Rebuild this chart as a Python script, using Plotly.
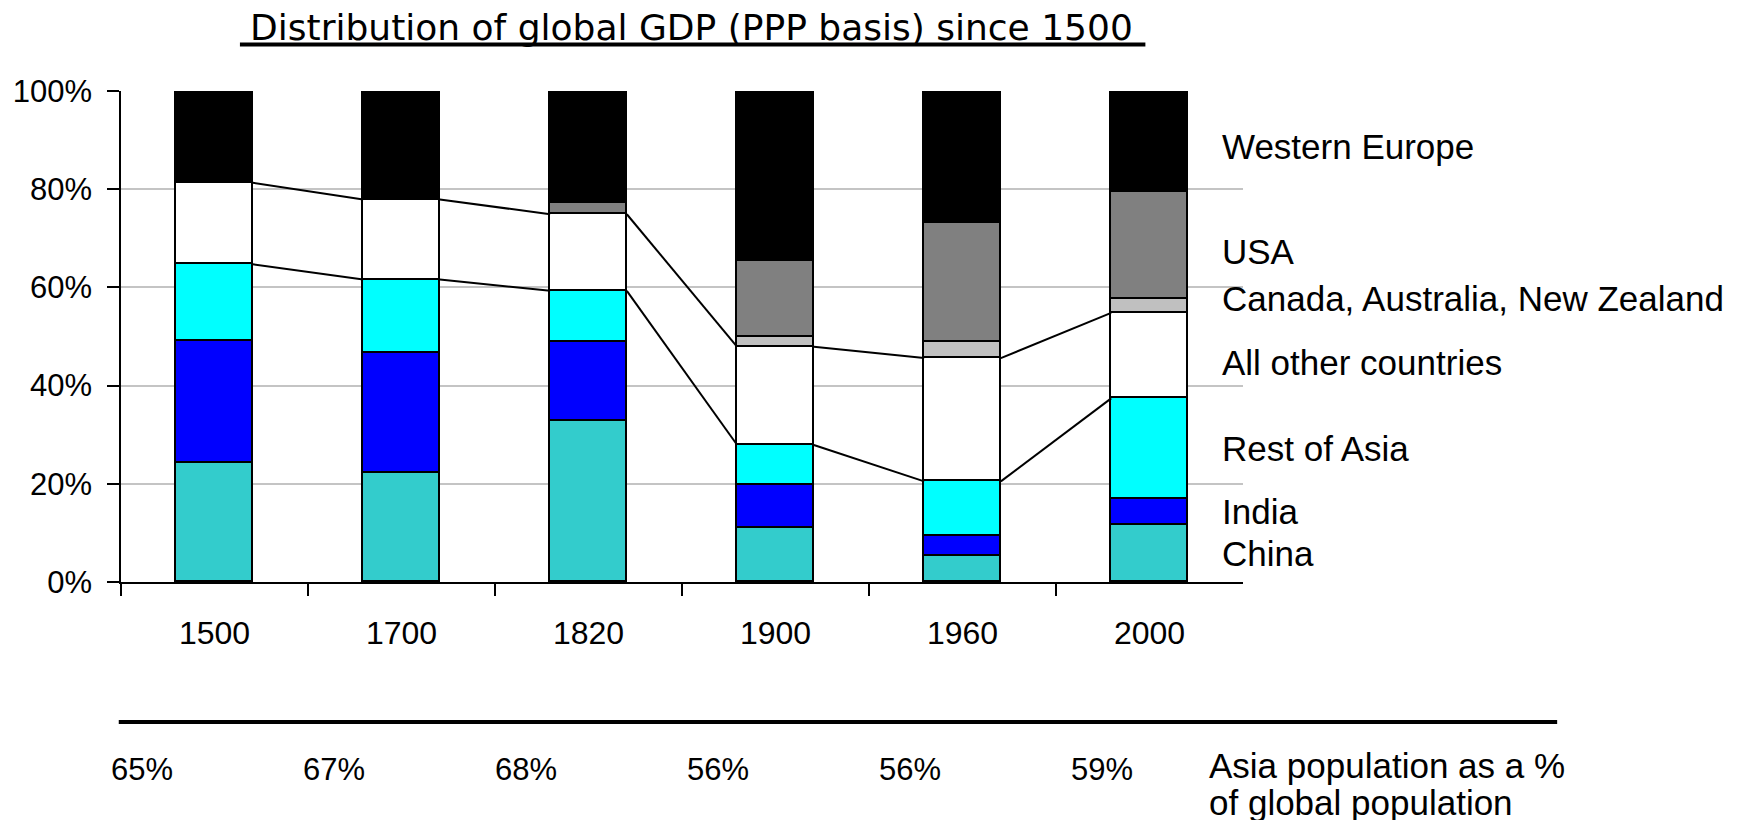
import plotly.graph_objects as go

# ---- data (percent of global GDP, PPP basis) ----
years = ["1500", "1700", "1820", "1900", "1960", "2000"]
china = [24.3, 22.1, 32.7, 10.9, 5.3, 11.6]
india = [24.8, 24.6, 16.2, 8.9, 4.0, 5.4]
rest_of_asia = [15.6, 14.9, 10.4, 8.1, 11.2, 20.4]
all_other = [16.6, 16.3, 15.6, 20.0, 25.1, 17.4]
canada_aus_nz = [0.0, 0.0, 0.0, 2.1, 3.3, 2.9]
usa = [0.0, 0.0, 2.2, 15.3, 24.2, 21.7]
western_europe = [18.7, 22.1, 22.9, 34.7, 26.9, 20.6]
asia_pop_share = ["65%", "67%", "68%", "56%", "56%", "59%"]
y_ticks = [0, 20, 40, 60, 80, 100]
y_tick_text = ["0%", "20%", "40%", "60%", "80%", "100%"]

series_names = ["China", "India", "Rest of Asia", "All other countries",
                "Canada, Australia, New Zealand", "USA", "Western Europe"]
series_values = [china, india, rest_of_asia, all_other, canada_aus_nz, usa, western_europe]
series_colors = ["#33CCCC", "#0000FF", "#00FFFF", "#FFFFFF", "#C0C0C0", "#808080", "#000000"]
label_yshift = [0, 0, 0, -7, 7, -6, -5]   # pixel nudges for right-hand labels

FONT = "Liberation Sans, Arial, sans-serif"
BAR_W = 0.41
xpos = list(range(len(years)))

fig = go.Figure()
for name, vals, col in zip(series_names, series_values, series_colors):
    fig.add_trace(go.Bar(x=xpos, y=vals, name=name, width=BAR_W,
                         marker=dict(color=col, line=dict(color="black", width=1.6)),
                         showlegend=False))

# cumulative levels for connecting lines
n = len(years)
asia_top = [china[i] + india[i] + rest_of_asia[i] for i in range(n)]
other_top = [asia_top[i] + all_other[i] for i in range(n)]

for level in (asia_top, other_top):
    lx, ly = [], []
    for i in range(n - 1):
        lx += [xpos[i] + BAR_W / 2, xpos[i + 1] - BAR_W / 2, None]
        ly += [level[i], level[i + 1], None]
    fig.add_trace(go.Scatter(x=lx, y=ly, mode="lines",
                             line=dict(color="black", width=2),
                             showlegend=False, hoverinfo="skip"))

# right-hand labels at middle of last bar segments
annotations = []
cum = 0.0
for name, vals, ys in zip(series_names, series_values, label_yshift):
    mid = cum + vals[-1] / 2
    cum += vals[-1]
    annotations.append(dict(x=5.377, y=mid, xref="x", yref="y", text=name,
                            showarrow=False, xanchor="left", yanchor="middle", yshift=ys,
                            font=dict(family=FONT, size=35, color="black")))

# Asia population row
for i, t in enumerate(asia_pop_share):
    annotations.append(dict(x=-0.388 + i * 1.027, y=-0.381, xref="x", yref="paper",
                            text=t, showarrow=False, xanchor="center", yanchor="middle",
                            font=dict(family=FONT, size=31, color="black")))
annotations.append(dict(x=0.968, y=-0.373, xref="paper", yref="paper",
                        text="Asia population as a %", showarrow=False,
                        xanchor="left", yanchor="middle",
                        font=dict(family=FONT, size=35, color="black")))
annotations.append(dict(x=0.968, y=-0.450, xref="paper", yref="paper",
                        text="of global population", showarrow=False,
                        xanchor="left", yanchor="middle",
                        font=dict(family=FONT, size=35, color="black")))

fig.update_layout(
    width=1748, height=820,
    margin=dict(l=113, r=513, t=83, b=246, autoexpand=False),
    paper_bgcolor="white", plot_bgcolor="white",
    barmode="stack", bargap=0,
    title=dict(text="Distribution of global GDP (PPP basis) since 1500",
               xref="container", yref="container", x=0.391, y=0.976,
               xanchor="center", yanchor="middle",
               font=dict(family="DejaVu Sans, sans-serif", size=36, color="black")),
    xaxis=dict(range=[-0.5, 5.5], tickmode="array", tickvals=xpos, ticktext=years,
               ticks="", showline=True, linecolor="black", linewidth=1.5,
               showgrid=False, zeroline=False, ticklabelstandoff=22, automargin=False,
               tickfont=dict(family=FONT, size=32, color="black"),
               minor=dict(tickmode="array", tickvals=[-0.5, 0.5, 1.5, 2.5, 3.5, 4.5],
                          ticks="outside", ticklen=12, tickwidth=1.5, tickcolor="black",
                          showgrid=False)),
    yaxis=dict(range=[0, 100], tickmode="array", tickvals=y_ticks, ticktext=y_tick_text,
               ticks="outside", ticklen=12, tickwidth=1.5,
               tickcolor="black", showline=True, linecolor="black", linewidth=1.5,
               showgrid=True, gridcolor="#C4C4C4", gridwidth=1.5, zeroline=False,
               ticklabelstandoff=9, automargin=False,
               tickfont=dict(family=FONT, size=31, color="black")),
    shapes=[
        dict(type="line", xref="paper", yref="paper", x0=-0.002, x1=1.28,
             y0=-0.285, y1=-0.285, line=dict(color="black", width=4)),
        # title underline
        dict(type="line", xref="paper", yref="paper", x0=0.106, x1=0.913,
             y0=1.0945, y1=1.0945, line=dict(color="black", width=4)),
    ],
    annotations=annotations,
)

fig.write_html("out.html")
